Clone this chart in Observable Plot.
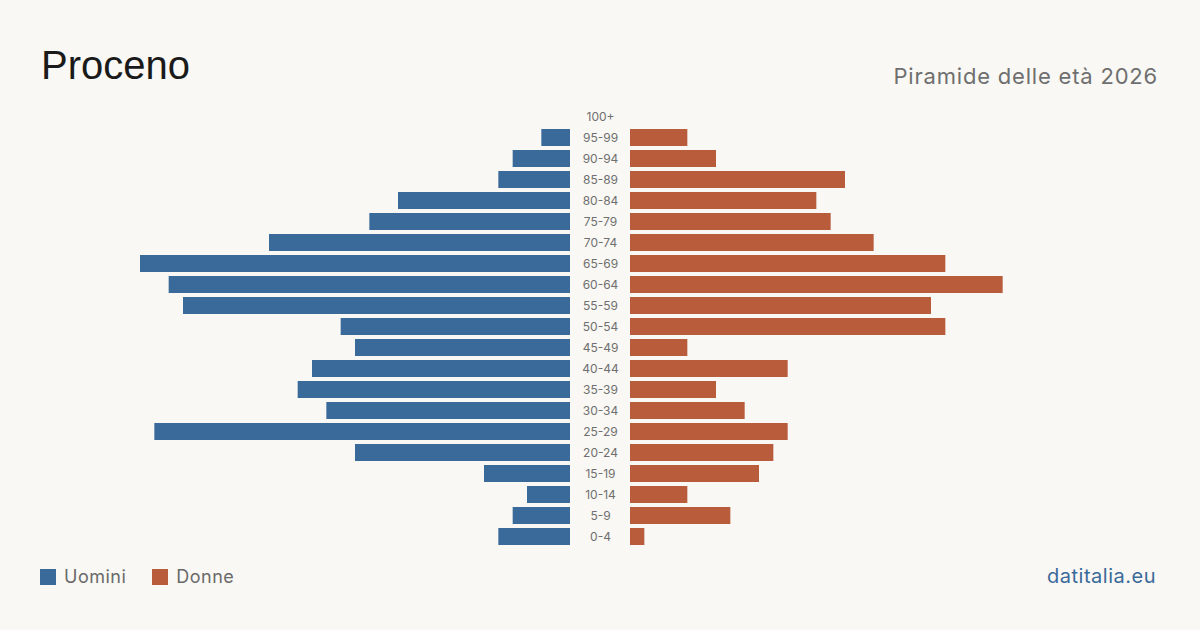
<!DOCTYPE html>
<html><head><meta charset="utf-8">
<script src="https://cdn.jsdelivr.net/npm/d3@7"></script>
<script src="https://cdn.jsdelivr.net/npm/@observablehq/plot@0.6"></script>
<style>
html,body{margin:0;padding:0;background:#f9f8f4;}
#page{position:relative;width:1200px;height:630px;background:#f9f8f4;font-family:Inter,"Liberation Sans",sans-serif;overflow:hidden;}
#title{position:absolute;left:41px;top:45px;font-family:"Liberation Sans",Arial,sans-serif;font-size:40px;color:#1a1a1a;line-height:1;}
#subtitle{position:absolute;right:42px;top:65px;font-size:22px;letter-spacing:0.8px;color:#6f6f6f;line-height:1;}
#chart{position:absolute;left:0;top:0;}
#legend{position:absolute;left:40px;top:568px;font-size:18px;letter-spacing:0.5px;color:#6a6a6a;display:flex;align-items:center;line-height:1;}
#legend .sw{display:inline-block;width:16px;height:16px;margin-right:8px;}
#legend .item{display:flex;align-items:center;margin-right:26px;}
#source{position:absolute;right:44px;top:566px;font-size:20px;letter-spacing:0.5px;color:#3a6a9a;line-height:1;}
</style></head>
<body><div id="page">
<div id="title">Proceno</div>
<div id="subtitle">Piramide delle età 2026</div>
<div id="chart"></div>
<div id="legend"></div>
<div id="source">datitalia.eu</div>
</div>
<script>
const ages = ["100+","95-99","90-94","85-89","80-84","75-79","70-74","65-69","60-64","55-59","50-54","45-49","40-44","35-39","30-34","25-29","20-24","15-19","10-14","5-9","0-4"];
const uomini = [0,2,4,5,12,14,21,30,28,27,16,15,18,19,17,29,15,6,3,4,5];
const donne  = [0,4,6,15,13,14,17,22,26,21,22,4,11,6,8,11,10,9,4,7,1];
const seriesNames = ["Uomini","Donne"];
const colors = ["#3a6a9a","#b85c3c"];

const maxVal = 30;
const gap = maxVal * 30 / 430; // half-gap for central labels, in data units

const men = ages.map((a,i)=>({age:a, v:uomini[i]}));
const women = ages.map((a,i)=>({age:a, v:donne[i]}));

const chart = Plot.plot({
  width: 1200,
  height: 560,
  marginLeft: 140,
  marginRight: 140,
  marginTop: 106.5,
  marginBottom: 12.5,
  style: {background: "transparent", fontFamily: "Inter, sans-serif"},
  x: {domain: [-(maxVal+gap), maxVal+gap], axis: null},
  y: {domain: ages, axis: null, paddingInner: 0.19, paddingOuter: 0.095},
  marks: [
    Plot.barX(men.filter(d=>d.v>0), {y: "age", x1: -gap, x2: d => -(gap + d.v), fill: colors[0]}),
    Plot.barX(women.filter(d=>d.v>0), {y: "age", x1: gap, x2: d => gap + d.v, fill: colors[1]}),
    Plot.text(ages, {y: d => d, x: 0, text: d => d, fontSize: 12, fill: "#6f6f6f"})
  ]
});
document.getElementById("chart").appendChild(chart);

const leg = document.getElementById("legend");
seriesNames.forEach((n,i)=>{
  const it = document.createElement("span"); it.className="item";
  const sw = document.createElement("span"); sw.className="sw"; sw.style.background=colors[i];
  it.appendChild(sw); it.appendChild(document.createTextNode(n));
  leg.appendChild(it);
});
</script>
</body></html>
